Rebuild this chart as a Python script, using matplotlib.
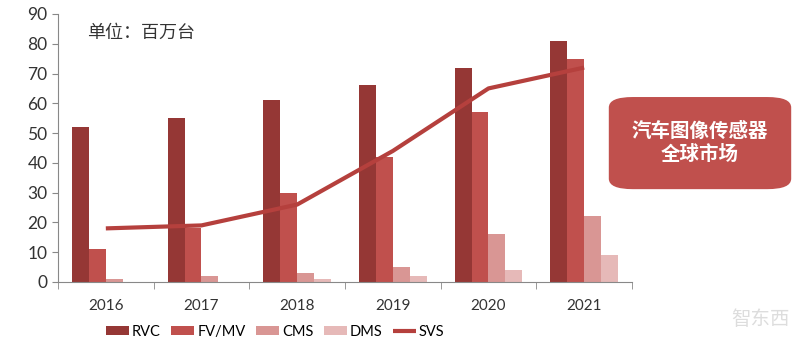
import numpy as np
import matplotlib.pyplot as plt
from matplotlib.patches import FancyBboxPatch

plt.rcParams['font.family'] = ['Lato', 'Noto Sans CJK SC', 'DejaVu Sans']

years = ['2016', '2017', '2018', '2019', '2020', '2021']
rvc = [52, 55, 61, 66, 72, 81]
fv_mv = [11, 18, 30, 42, 57, 75]
cms = [1, 2, 3, 5, 16, 22]
dms = [0, 0, 1, 2, 4, 9]
svs = [18, 19, 26, 44, 65, 72]

series = [('RVC', rvc, '#953735'), ('FV/MV', fv_mv, '#C0504D'),
          ('CMS', cms, '#D99694'), ('DMS', dms, '#E6B9B8')]

fig = plt.figure(figsize=(8, 3.49), dpi=100)
ax = fig.add_axes([0.0725, 0.192, 0.7175, 0.768])

x = np.arange(len(years))
w = 0.177
for i, (name, vals, col) in enumerate(series):
    ax.bar(x + (i - 1.5) * w, vals, width=w, color=col, label=name, zorder=2)

ax.plot(x, svs, color='#B5403D', lw=3, label='SVS', zorder=3, solid_capstyle='butt')

ax.set_xlim(-0.5, len(years) - 0.5)
ax.set_ylim(0, 90)
ax.set_yticks(range(0, 91, 10))
ax.set_xticks(x)
ax.set_xticklabels(years)
ax.set_xticks(np.arange(-0.5, len(years)), minor=True)
ax.tick_params(axis='x', which='major', length=0, pad=12, labelsize=11, colors='#333333')
ax.tick_params(axis='x', which='minor', length=5, color='#888888')
ax.tick_params(axis='y', length=4, labelsize=12.5, colors='#888888', labelcolor='#333333')
for s in ['top', 'right']:
    ax.spines[s].set_visible(False)
for s in ['left', 'bottom']:
    ax.spines[s].set_color('#888888')

ax.text(0.05, 0.93, '单位：百万台', transform=ax.transAxes, fontsize=13,
        color='#333333', va='center', family=['Noto Sans CJK SC'])

box = FancyBboxPatch((0.761, 0.458), 0.228, 0.264, boxstyle='round,pad=0,rounding_size=0.03',
                     transform=fig.transFigure, facecolor='#C0504D', edgecolor='none')
fig.patches.append(box)
fig.text(0.875, 0.59, '汽车图像传感器\n全球市场', ha='center', va='center', color='white',
         fontsize=14, fontweight='bold', linespacing=1.25, family=['Noto Sans CJK SC'])

fig.text(0.95, 0.085, '智东西', ha='center', va='center', color='#dddddd', fontsize=14,
         family=['Noto Sans CJK SC'])

handles, labels = ax.get_legend_handles_labels()
order = [1, 2, 3, 4, 0]
fig.legend([handles[i] for i in order], [labels[i] for i in order],
           loc='center', bbox_to_anchor=(0.344, 0.05), ncol=5, frameon=False,
           fontsize=10.5, handlelength=1.6, handleheight=0.55, columnspacing=0.7,
           handletextpad=0.2)

fig.savefig('out.png', dpi=100)
